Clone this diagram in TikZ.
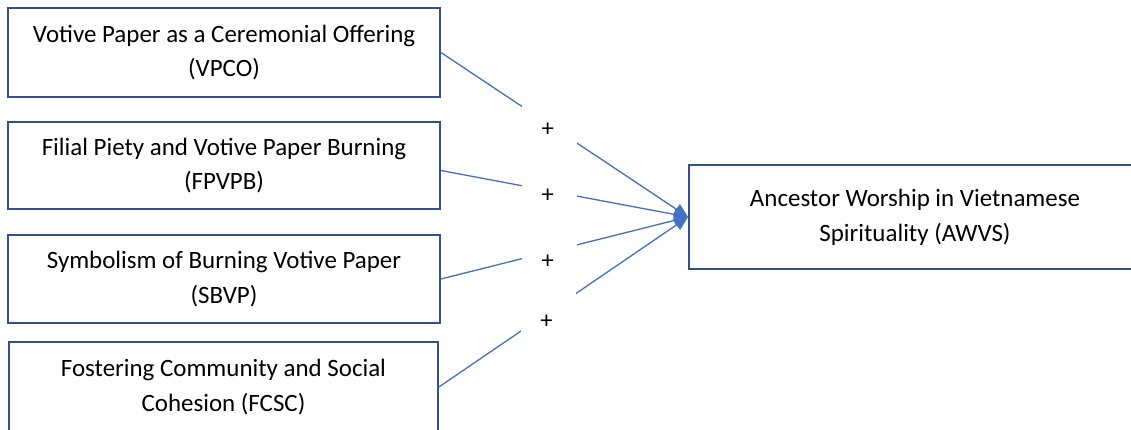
\documentclass[tikz,border=0pt]{standalone}
\usepackage{fontspec}
\setmainfont{Carlito}
\usetikzlibrary{arrows.meta}
\definecolor{boxblue}{HTML}{2F528F}
\definecolor{lineblue}{HTML}{4472C4}

\begin{document}
\begin{tikzpicture}[x=0.02cm, y=-0.02cm]
        \tikzset{
            factor/.style={draw=boxblue, line width=1.1pt, align=center, inner sep=0pt, font=\fontsize{14.2}{19.8}\selectfont},
            effect/.style={-{Triangle[length=8pt,width=7pt]}, line width=0.75pt, color=lineblue},
            sign/.style={fill=white, inner sep=0pt, minimum width=1.1cm, minimum height=0.88cm,
                label={[text=black, font=\fontsize{14}{16}\selectfont, xshift=-0.04cm, yshift=-#1]center:+}},
            sign/.default=0.1cm
        }
        \clip (0,0) rectangle (1131,429);
        \node[factor, minimum width=8.64cm, minimum height=1.78cm] (vpco) at (224,52.5) {Votive Paper as a Ceremonial Offering\\(VPCO)};
        \node[factor, minimum width=8.64cm, minimum height=1.74cm] (fpvpb) at (224,165.5) {Filial Piety and Votive Paper Burning\\(FPVPB)};
        \node[factor, minimum width=8.64cm, minimum height=1.76cm] (sbvp) at (224,279) {Symbolism of Burning Votive Paper\\(SBVP)};
        \node[factor, minimum width=8.58cm, minimum height=1.8cm] (fcsc) at (223.5,387) {Fostering Community and Social\\Cohesion (FCSC)};
        \node[factor, minimum width=9.04cm, minimum height=2.08cm] (awvs) at (915,217) {Ancestor Worship in Vietnamese\\Spirituality (AWVS)};
        \draw[effect] (vpco.east) -- (awvs.west) node[sign, pos=0.44] {};
        \draw[effect] ([yshift=-0.1cm]fpvpb.east) -- (awvs.west) node[sign, pos=0.44] {};
        \draw[effect] (sbvp.east) -- (awvs.west) node[sign=0.2cm, pos=0.44] {};
        \draw[effect] (fcsc.east) -- (awvs.west) node[sign=0.2cm, pos=0.44] {};
    \end{tikzpicture}
\end{document}
